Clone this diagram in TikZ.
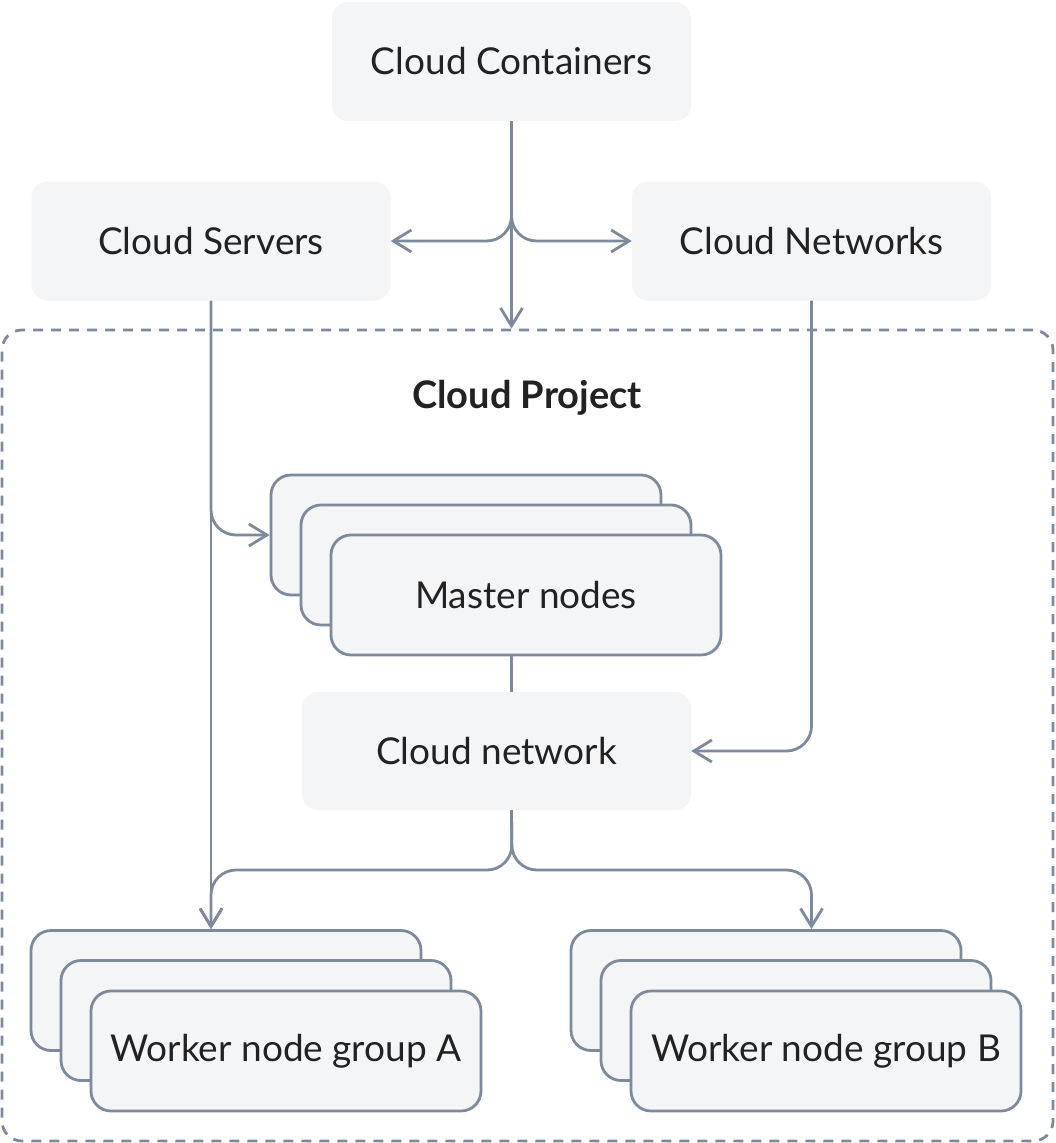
\documentclass[tikz,border=0pt]{standalone}
\usepackage{fontspec}
\setmainfont{Lato}
\usetikzlibrary{arrows.meta}
\definecolor{boxfill}{HTML}{F4F5F7}
\definecolor{edge}{HTML}{7D8A9B}
\definecolor{ink}{HTML}{222222}
\begin{document}
\begin{tikzpicture}[x=1pt,y=-1pt,
   every node/.style={text=ink,font=\fontsize{37}{44}\selectfont},
   box/.style={fill=boxfill,rounded corners=16pt,minimum width=359pt,minimum height=119pt},
   stack/.style={draw=edge,line width=2.8pt,fill=boxfill,rounded corners=20pt,minimum width=390pt,minimum height=120pt},
   frame/.style={draw=edge,line width=2.8pt,dash pattern=on 10pt off 8pt,rounded corners=20pt,minimum width=1051pt,minimum height=811pt},
   link/.style={draw=edge,line width=2.8pt,rounded corners=25pt,-{Straight Barb[length=18pt,width=22pt]}}]
\useasboundingbox (0,0) rectangle (1056,1143);
\node[frame] (proj) at (527.5,735.5) {};
\node[font=\fontsize{38}{44}\selectfont\bfseries] (ptitle) at (527,398) {Cloud Project};
\node[box] (cc) at (511.5,61.5) {Cloud Containers};
\node[box] (cs) at (211,241) {Cloud Servers};
\node[box] (cn) at (811.5,241) {Cloud Networks};
\node[stack] (m3) at (466,535) {};
\node[stack] (m2) at (496,565) {};
\node[stack] (m) at (526,595) {Master nodes};
\node[box,minimum width=389pt,minimum height=118pt] (cnet) at (496.5,751) {Cloud network};
\node[stack] (wA3) at (226,990.5) {};
\node[stack] (wA2) at (256,1020.5) {};
\node[stack] (wA) at (286,1051) {Worker node group A};
\node[stack] (wB3) at (766,990.5) {};
\node[stack] (wB2) at (796,1020.5) {};
\node[stack] (wB) at (826,1051) {Worker node group B};
\coordinate (fork) at (512,870);
\draw[link] (cc.south) -- (cc.south |- proj.north);
\draw[link] (cc.south) |- (cs.east);
\draw[link] (cc.south) |- (cn.west);
\draw[link] (cs.south) -- (cs.south |- wA3.north);
\draw[link] (cs.south) |- (m3.west);
\draw[link] (cn.south) |- (cnet.east);
\draw[draw=edge,line width=2.8pt] (cc.south |- m.south) -- (cc.south |- cnet.north);
\draw[link] (cc.south |- cnet.south) -- (fork) -| (cs.south |- wA3.north);
\draw[link] (cc.south |- cnet.south) -- (fork) -| (cn.south |- wB3.north);
\end{tikzpicture}
\end{document}
